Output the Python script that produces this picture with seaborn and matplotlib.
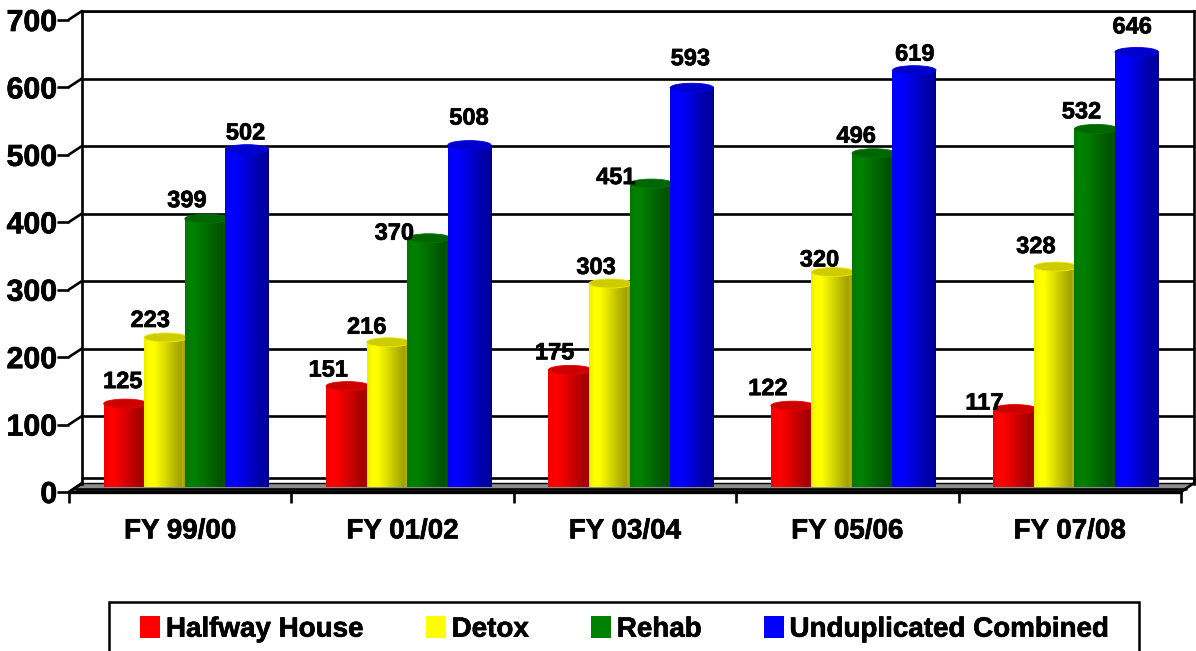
import numpy as np
import pandas as pd
import matplotlib
matplotlib.use("Agg")
import matplotlib.pyplot as plt
import matplotlib.patheffects as pe
from matplotlib.colors import LinearSegmentedColormap
from matplotlib.patches import Ellipse, Rectangle, Polygon
import seaborn as sns

years = ["FY 99/00", "FY 01/02", "FY 03/04", "FY 05/06", "FY 07/08"]
halfway = [125, 151, 175, 122, 117]
detox = [223, 216, 303, 320, 328]
rehab = [399, 370, 451, 496, 532]
combined = [502, 508, 593, 619, 646]
series_names = ["Halfway House", "Detox", "Rehab", "Unduplicated Combined"]
series_colors = ["#ff0000", "#ffff00", "#008000", "#0000ff"]
y_ticks = [0, 100, 200, 300, 400, 500, 600, 700]

# label nudges in pixels (left, up) relative to bar centre / top, per bar in group order
label_dx = [[-1, -18, -14, -23, -29], [-14, -20, -13, -12, -18],
            [-18, -33, -34, -16, -13], [0, 1, 0, 2, -3]]
label_dy = [[21, 15, 16, 16, 5], [16, 14, 15, 11, 19],
            [17, 4, 5, 16, 16], [15, 26, 28, 15, 24]]

W, H = 1196, 651
sns.set_theme(style="white")
plt.rcParams["font.family"] = ["Liberation Sans", "DejaVu Sans"]
plt.rcParams["font.weight"] = "bold"
fig = plt.figure(figsize=(W / 100, H / 100), dpi=100)
heavy = [pe.withStroke(linewidth=0.5, foreground="black")]


def axes_px(x0, x1, ytop, ybot, z):
    ax = fig.add_axes([x0 / W, 1 - ybot / H, (x1 - x0) / W, (ybot - ytop) / H], zorder=z)
    ax.patch.set_alpha(0)
    return ax


# structure layer in figure pixels
st = fig.add_axes([0, 0, 1, 1], zorder=0)
st.set_xlim(0, W); st.set_ylim(H, 0); st.axis("off")
LW = 1.9
# floor
st.add_patch(Polygon([(82, 483), (1194, 483), (1181, 492), (69, 492)], fc="#8c8c8c", ec="none"))
st.plot([82, 1194], [478, 478], color="black", lw=LW)
st.plot([82, 1194], [483, 483], color="black", lw=1.0)
st.plot([76, 1186], [488.5, 488.5], color="black", lw=LW)
st.plot([69, 1181], [492, 492], color="black", lw=2.4)
st.plot([82, 69], [483, 492], color="black", lw=LW)
st.plot([1194, 1181], [483, 492], color="black", lw=LW)
st.plot([1194, 1194], [478, 483], color="black", lw=LW)
# legend box
st.add_patch(Rectangle((108.5, 601.5), 1030, 70, fc="white", ec="black", lw=1.8, clip_on=True))

# back wall
wall = axes_px(82, 1194, 11, 483.5, 1)
wall.set_ylim(0, 700)
wall.set_xlim(0, 1)
wall.set_yticks(y_ticks[1:])
wall.set_xticks([])
wall.tick_params(left=False, labelleft=False)
wall.grid(axis="y", color="black", lw=LW)
for s in ["left", "right", "top"]:
    wall.spines[s].set_visible(True)
    wall.spines[s].set_color("black")
    wall.spines[s].set_linewidth(LW)
wall.spines["bottom"].set_visible(False)

# connectors from the ticks to the wall
tick_scale = 67.5 / 100
for v in y_ticks:
    yy = 492 - v * tick_scale
    st.plot([69, 82], [yy, yy - 8.5], color="black", lw=LW)

# bars
df = pd.DataFrame({"year": years * 4,
                   "series": np.repeat(series_names, len(years)),
                   "value": halfway + detox + rehab + combined})
bx = axes_px(69 + 4.5, 1181 + 4.5, 487 - 700 * 0.675, 487, 2)
sns.barplot(data=df, x="year", y="value", hue="series", hue_order=series_names,
            palette=series_colors, width=0.73, gap=0, saturation=1, ax=bx, legend=True)
bx.set_xlim(-0.5, 4.5)
bx.set_ylim(0, 700)
handles, labels = bx.get_legend_handles_labels()
bx.get_legend().remove()
bx.axis("off")

px_x = (1181 - 69) / 5  # pixels per category
px_y = 0.675


def shade(c, f):
    return tuple(np.array(matplotlib.colors.to_rgb(c)) * f)


bars = [p for cont in bx.containers for p in cont.patches]
n = len(years)
for i, p in enumerate(bars):
    k, g = i // n, i % n
    col = series_colors[k]
    cmap = LinearSegmentedColormap.from_list(
        "c", [(0, shade(col, .93)), (.12, col), (.24, col), (.86, shade(col, .62)), (.88, shade(col, .72)), (1, shade(col, .5))])
    x0, w, h = p.get_x(), p.get_width(), p.get_height()
    ww = w + 3 / px_x
    cap = 4.5 / px_y
    lift = 3.5 / px_y
    p.set_visible(False)
    z = 3 + k * 2
    bx.imshow(np.linspace(0, 1, 128)[None, :], cmap=cmap, aspect="auto",
              extent=(x0, x0 + ww, 0, h - cap + lift), zorder=z, interpolation="bilinear")
    bx.add_patch(Ellipse((x0 + ww / 2, h - cap + lift), ww * 0.995, 2 * cap,
                         fc=shade(col, .8), ec=shade(col, .92), lw=0.6, zorder=z + .5,
                         clip_on=False))
    bx.annotate(str(int(h)), (p.get_x() + w / 2, h),
                xytext=(label_dx[k][g] * 0.72, label_dy[k][g] * 0.72), textcoords="offset points",
                ha="center", va="center", fontsize=17, fontweight="bold", color="black",
                zorder=30, annotation_clip=False, path_effects=heavy)
bx.set_xlim(-0.5, 4.5)
bx.set_ylim(0, 700)

# front axis: ticks and labels
fx = axes_px(69, 1181, 20, 492, 3)
fx.set_xlim(-0.5, 4.5)
fx.set_ylim(0, 700)
for s in fx.spines.values():
    s.set_visible(False)
fx.set_yticks(y_ticks)
fx.set_yticklabels([str(v) for v in y_ticks], fontsize=21.8, fontweight="bold", color="black",
                   path_effects=heavy)
fx.tick_params(axis="y", left=True, length=8.5, width=1.9, color="black", pad=0)
fx.set_xticks(range(5))
fx.set_xticklabels(years, fontsize=20, fontweight="bold", color="black", path_effects=heavy)
fx.tick_params(axis="x", which="major", length=0, pad=19)
fx.set_xticks(np.arange(-0.5, 5), minor=True)
fx.tick_params(axis="x", which="minor", bottom=True, length=8, width=1.9, color="black")

# legend
proxies = [Rectangle((0, 0), 1, 1, fc=c, ec="none") for c in series_colors]
leg = fig.legend(proxies, labels, ncols=4, loc="center", frameon=False,
                 bbox_to_anchor=(624.5 / W, 1 - 629.5 / H),
                 prop={"size": 20, "weight": "bold"}, labelcolor="black",
                 handlelength=0.72, handleheight=0.8, handletextpad=0.2, columnspacing=2.25,
                 borderpad=0, borderaxespad=0)
leg.set_zorder(10)
for t in leg.get_texts():
    t.set_path_effects(heavy)

fig.savefig("out.png", dpi=100, facecolor="white")
